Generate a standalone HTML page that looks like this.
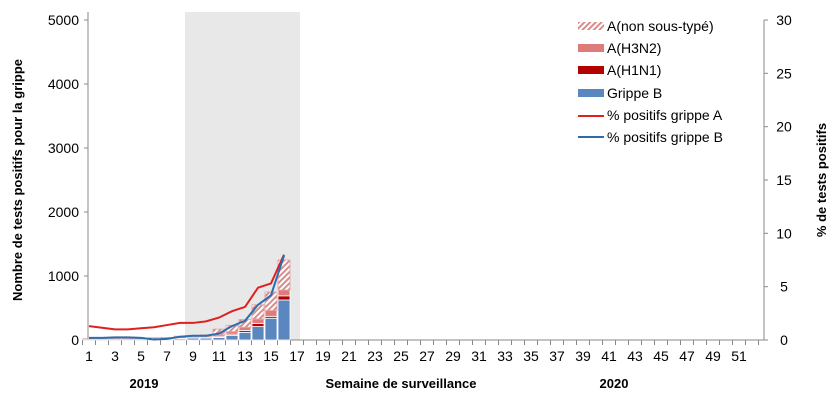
<!DOCTYPE html>
<html><head><meta charset="utf-8"><style>
body{margin:0;background:#fff;width:840px;height:405px;overflow:hidden}
svg{display:block;font-family:"Liberation Sans",Arial,sans-serif}
</style></head><body>
<svg id="chart" width="840" height="405" viewBox="0 0 840 405" xmlns="http://www.w3.org/2000/svg">
<defs><pattern id="hatch" patternUnits="userSpaceOnUse" width="4" height="4" patternTransform="rotate(45)"><rect width="4" height="4" fill="#fff"/><rect width="2" height="4" fill="#d98c8c"/></pattern></defs>
<rect x="185" y="12" width="115" height="328" fill="#e8e8e8"/>
<g id="axes"></g><g id="bars"></g><g id="lines"></g>
<text transform="translate(22,180) rotate(-90)" text-anchor="middle" font-size="13" font-weight="bold">Nombre de tests positifs pour la grippe</text>
<text transform="translate(826,180) rotate(-90)" text-anchor="middle" font-size="13" font-weight="bold">% de tests positifs</text>
<text x="401" y="388" text-anchor="middle" font-size="13" font-weight="bold">Semaine de surveillance</text>
<text x="144" y="388" text-anchor="middle" font-size="13" font-weight="bold">2019</text>
<text x="614" y="388" text-anchor="middle" font-size="13" font-weight="bold">2020</text>
<g font-size="14">
<rect x="578" y="22" width="26" height="8" fill="url(#hatch)"/><text x="607" y="31">A(non sous-typé)</text>
<rect x="578" y="44" width="26" height="8" fill="#e07b7b"/><text x="607" y="53">A(H3N2)</text>
<rect x="578" y="66" width="26" height="8" fill="#b30000"/><text x="607" y="75">A(H1N1)</text>
<rect x="578" y="89" width="26" height="8" fill="#5b87c0"/><text x="607" y="98">Grippe B</text>
<line x1="578" y1="116" x2="604" y2="116" stroke="#e02020" stroke-width="2"/><text x="607" y="120">% positifs grippe A</text>
<line x1="578" y1="137" x2="604" y2="137" stroke="#2a6db0" stroke-width="2"/><text x="607" y="142">% positifs grippe B</text>
</g>
</svg>
<script>
const weeks=[1,2,3,4,5,6,7,8,9,10,11,12,13,14,15,16];
const grippeB=[15,15,15,15,12,10,15,20,30,30,40,70,120,210,340,625];
const h1n1=[0,0,0,0,0,0,3,5,5,5,10,20,30,50,30,65];
const h3n2=[2,2,2,2,2,5,7,10,10,15,30,40,50,70,90,90];
const nonSousType=[3,3,3,3,6,20,15,25,25,30,90,100,120,220,290,470];
const pctA=[1.3,1.15,1.0,1.0,1.1,1.2,1.4,1.6,1.6,1.75,2.1,2.7,3.1,4.9,5.3,8.0];
const pctB=[0.2,0.2,0.25,0.25,0.2,0.05,0.1,0.3,0.4,0.4,0.6,1.3,1.8,3.3,4.2,7.9];
const yTicks=[0,1000,2000,3000,4000,5000];
const y2Ticks=[0,5,10,15,20,25,30];
const xLabels=[1,3,5,7,9,11,13,15,17,19,21,23,25,27,29,31,33,35,37,39,41,43,45,47,49,51];
const NS="http://www.w3.org/2000/svg";
const X=w=>89+13*(w-1), Y=v=>340-v*0.064, Y2=p=>340-p*320/30;
function mk(t,a,p){const e=document.createElementNS(NS,t);for(const k in a)e.setAttribute(k,a[k]);p.appendChild(e);return e;}
const ax=document.getElementById('axes');
let e=mk('line',{x1:88,y1:12,x2:88,y2:340,stroke:'#888'},ax);


e=mk('line',{x1:764,y1:20,x2:764,y2:340,stroke:'#888'},ax);


e=mk('line',{x1:82,y1:340,x2:764,y2:340,stroke:'#888'},ax);


yTicks.forEach(v=>{mk('line',{x1:84,x2:88,y1:Y(v),y2:Y(v),stroke:'#888'},ax);
const t=mk('text',{x:79,y:Y(v)+5,'text-anchor':'end','font-size':14},ax);t.textContent=v;

});
y2Ticks.forEach(v=>{mk('line',{x1:764,x2:768,y1:Y2(v),y2:Y2(v),stroke:'#888'},ax);
const t=mk('text',{x:784,y:Y2(v)+5,'text-anchor':'middle','font-size':14},ax);t.textContent=v;

});
for(let w=1;w<=53;w++)mk('line',{x1:X(w)-6.5,x2:X(w)-6.5,y1:340,y2:345,stroke:'#888'},ax);
xLabels.forEach(w=>{const t=mk('text',{x:X(w),y:361,'text-anchor':'middle','font-size':14},ax);t.textContent=w;

});
const bg=document.getElementById('bars');
const series=[[grippeB,'#5b87c0','bar-grippe-b'],[h1n1,'#b30000','bar-h1n1'],[h3n2,'#e07b7b','bar-h3n2'],[nonSousType,'url(#hatch)','bar-non-sous-type']];
weeks.forEach((w,i)=>{let base=0;series.forEach(s=>{const v=s[0][i];if(v<=0)return;
const r=mk('rect',{x:X(w)-6,y:Y(base+v),width:12,height:v*0.064,fill:s[1],stroke:s[2]==='bar-non-sous-type'?'#e0a0a0':'#fff','stroke-width':0.8},bg);


base+=v;});});
const lg=document.getElementById('lines');
[[pctA,'#e02020','line-pct-a'],[pctB,'#2a6db0','line-pct-b']].forEach(s=>{
const p=mk('polyline',{points:weeks.map((w,i)=>X(w)+','+Y2(s[0][i])).join(' '),fill:'none',stroke:s[1],'stroke-width':2},lg);

});
</script>
</body></html>
